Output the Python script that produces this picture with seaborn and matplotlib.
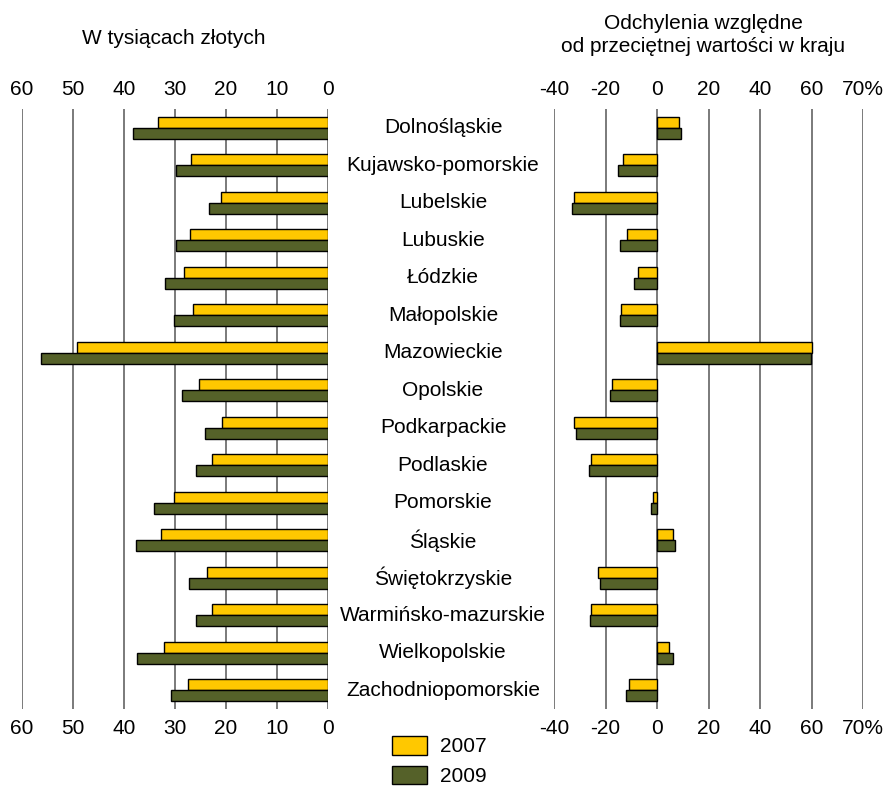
# =========================================================
# WYNAGRODZENIA / WOJEWODZTWA 2007 vs 2009
# =========================================================

import pandas as pd
import numpy as np
import matplotlib
matplotlib.use("Agg")
import matplotlib.pyplot as plt
import matplotlib.transforms as mtransforms
from matplotlib.patches import Patch
import seaborn as sns

# =========================================================
# DATA
# =========================================================

regions = [
    "Dolnośląskie", "Kujawsko-pomorskie", "Lubelskie", "Lubuskie",
    "Łódzkie", "Małopolskie", "Mazowieckie", "Opolskie",
    "Podkarpackie", "Podlaskie", "Pomorskie", "Śląskie",
    "Świętokrzyskie", "Warmińsko-mazurskie", "Wielkopolskie",
    "Zachodniopomorskie",
]

years = ["2007", "2009"]

# w tysiacach zlotych
thousands_2007 = [33.3, 26.8, 20.9, 27.1, 28.3, 26.4, 49.3, 25.3,
                  20.7, 22.7, 30.1, 32.7, 23.7, 22.7, 32.1, 27.4]
thousands_2009 = [38.2, 29.8, 23.4, 29.9, 32.0, 30.2, 56.3, 28.7,
                  24.2, 25.8, 34.2, 37.6, 27.2, 25.8, 37.4, 30.7]

# odchylenia wzgledne (%)
deviation_2007 = [8.5, -13.2, -32.1, -11.7, -7.4, -14.0, 60.1, -17.6,
                  -32.4, -25.6, -1.6, 6.2, -22.9, -25.6, 4.5, -10.9]
deviation_2009 = [9.2, -15.0, -33.0, -14.5, -8.8, -14.4, 59.7, -18.1,
                  -31.5, -26.4, -2.4, 7.1, -22.1, -26.0, 6.2, -12.0]

left_ticks = [60, 50, 40, 30, 20, 10, 0]
right_ticks = [-40, -20, 0, 20, 40, 60, 80]
right_tick_labels = ["-40", "-20", "0", "20", "40", "60", "70%"]

left_title = "W tysiącach złotych"
right_title = "Odchylenia względne\nod przeciętnej wartości w kraju"

colors = ["#FFC800", "#556129"]

# =========================================================
# LONG FORMAT
# =========================================================

df_left = pd.DataFrame({
    "region": regions * 2,
    "year": [years[0]] * len(regions) + [years[1]] * len(regions),
    "value": thousands_2007 + thousands_2009,
})

df_right = pd.DataFrame({
    "region": regions * 2,
    "year": [years[0]] * len(regions) + [years[1]] * len(regions),
    "value": deviation_2007 + deviation_2009,
})

# =========================================================
# FIGURE
# =========================================================

sns.set_style("white")
plt.rcParams["font.family"] = ["Liberation Sans", "DejaVu Sans"]
plt.rcParams["font.size"] = 15
plt.rcParams["text.color"] = "black"
plt.rcParams["xtick.color"] = "black"

W, H = 894, 789
fig = plt.figure(figsize=(W / 100, H / 100), dpi=100)

ax_left = fig.add_axes([22 / W, 80 / H, 306 / W, 600 / H])
ax_right = fig.add_axes([554 / W, 80 / H, 309 / W, 600 / H])

for ax, data in [(ax_left, df_left), (ax_right, df_right)]:
    sns.barplot(
        data=data,
        x="value",
        y="region",
        hue="year",
        orient="h",
        palette=colors,
        saturation=1,
        width=0.58,
        edgecolor="black",
        linewidth=1,
        legend=False,
        zorder=3,
        ax=ax,
    )
    ax.set_ylim(len(regions) - 0.5, -0.5)
    ax.set_xlabel("")
    ax.set_ylabel("")
    ax.set_yticks([])
    for side in ["top", "bottom", "left", "right"]:
        ax.spines[side].set_visible(False)
    ax.xaxis.grid(True, color="#7a7a7a", linewidth=1.4, zorder=0)
    ax.tick_params(
        axis="x",
        labeltop=True,
        labelbottom=True,
        length=0,
        labelsize=15,
        pad=7,
    )

# left panel: reversed scale
ax_left.set_xlim(60, 0)
ax_left.set_xticks(left_ticks)
ax_left.set_xticklabels([str(t) for t in left_ticks])

# right panel
ax_right.set_xlim(-40, 80)
ax_right.set_xticks(right_ticks)
ax_right.set_xticklabels(right_tick_labels)

# =========================================================
# REGION NAMES BETWEEN PANELS
# =========================================================

trans = mtransforms.blended_transform_factory(fig.transFigure, ax_left.transData)
for i, name in enumerate(regions):
    fig.text(443 / W, i, name, transform=trans, ha="center",
             va="center", fontsize=15)

# =========================================================
# TITLES
# =========================================================

fig.text(174 / W, 1 - 38 / H, left_title, ha="center", va="center",
         fontsize=15)
fig.text(703 / W, 1 - 35 / H, right_title, ha="center", va="center",
         fontsize=15, linespacing=1.3)

# =========================================================
# LEGEND
# =========================================================

handles = [Patch(facecolor=c, edgecolor="black", linewidth=1) for c in colors]
fig.legend(
    handles,
    years,
    loc="upper left",
    bbox_to_anchor=(392 / W, 1 - 736 / H),
    frameon=False,
    fontsize=15,
    borderpad=0,
    borderaxespad=0,
    handlelength=1.7,
    handleheight=1.0,
    labelspacing=0.45,
    handletextpad=0.62,
)

fig.savefig("out.png", dpi=100)
